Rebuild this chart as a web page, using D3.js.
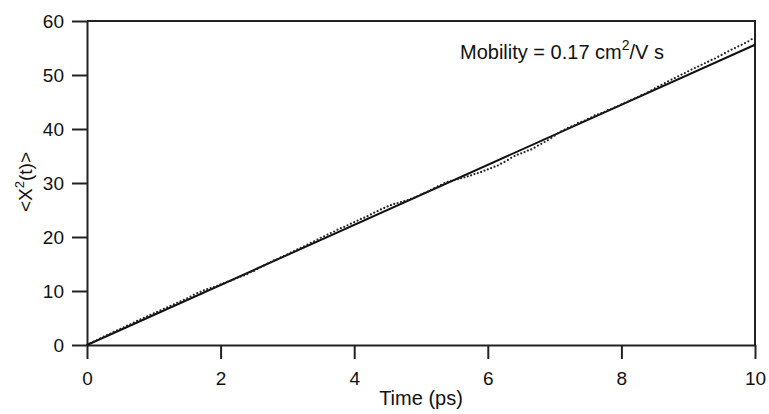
<!DOCTYPE html>
<html>
<head>
<meta charset="utf-8">
<script src="https://cdn.jsdelivr.net/npm/d3@7/dist/d3.min.js"></script>
<style>
  html, body { margin: 0; padding: 0; background: #fff; }
  svg { display: block; font-family: "Liberation Sans", Arial, sans-serif; }
</style>
</head>
<body>
<svg id="chart" width="769" height="414"></svg>
<script>
// Mean squared displacement <X^2(t)> sampled every 0.05 ps from 0 to 10 ps
const timeStep = 0.05;
const msd = [
  0.00, 0.33, 0.64, 0.93, 1.23, 1.54, 1.82, 2.13, 2.42, 2.70,
  2.98, 3.28, 3.59, 3.83, 4.14, 4.45, 4.75, 5.01, 5.30, 5.58,
  5.86, 6.12, 6.42, 6.71, 6.97, 7.23, 7.53, 7.81, 8.10, 8.36,
  8.64, 8.97, 9.30, 9.59, 9.85, 10.13, 10.36, 10.54, 10.71, 10.94,
  11.22, 11.45, 11.68, 11.90, 12.13, 12.41, 12.64, 12.87, 13.14, 13.47,
  13.70, 14.08, 14.41, 14.73, 15.06, 15.34, 15.67, 15.90, 16.22, 16.50,
  16.78, 17.11, 17.39, 17.71, 17.99, 18.27, 18.60, 18.93, 19.20, 19.53,
  19.86, 20.14, 20.44, 20.74, 21.02, 21.35, 21.63, 21.89, 22.18, 22.46,
  22.74, 23.04, 23.35, 23.57, 23.85, 24.18, 24.51, 24.79, 25.11, 25.39,
  25.67, 25.90, 26.13, 26.30, 26.48, 26.66, 26.84, 27.07, 27.29, 27.57,
  27.90, 28.18, 28.41, 28.73, 29.06, 29.39, 29.67, 30.00, 30.22, 30.40,
  30.53, 30.71, 30.89, 31.06, 31.24, 31.42, 31.65, 31.83, 32.05, 32.28,
  32.51, 32.74, 33.02, 33.24, 33.57, 33.90, 34.28, 34.66, 34.98, 35.26,
  35.49, 35.72, 36.00, 36.22, 36.55, 36.93, 37.26, 37.59, 37.91, 38.34,
  38.77, 39.20, 39.58, 39.90, 40.23, 40.51, 40.74, 41.07, 41.34, 41.57,
  41.90, 42.18, 42.51, 42.73, 42.96, 43.19, 43.52, 43.75, 44.02, 44.25,
  44.58, 44.86, 45.09, 45.41, 45.69, 45.97, 46.30, 46.53, 46.85, 47.18,
  47.51, 47.84, 48.17, 48.49, 48.82, 49.15, 49.43, 49.76, 50.08, 50.36,
  50.69, 51.02, 51.30, 51.57, 51.90, 52.18, 52.46, 52.79, 53.06, 53.39,
  53.72, 54.05, 54.38, 54.70, 54.98, 55.31, 55.59, 55.92, 56.24, 56.62,
  57.00
];
// Linear fit through the origin
const fitTime = [0, 10];
const fitMsd = [0, 55.6];

const xTicks = [0, 2, 4, 6, 8, 10];
const yTicks = [0, 10, 20, 30, 40, 50, 60];
const xDomain = [0, 10];
const yDomain = [0, 60];

const svg = d3.select("#chart");
const plotLeft = 87, plotRight = 755, plotTop = 21, plotBottom = 345;

const x = d3.scaleLinear().domain(xDomain).range([plotLeft, plotRight]);
const y = d3.scaleLinear().domain(yDomain).range([plotBottom, plotTop]);

const ink = "#222";

// frame (top and right edges)
svg.append("path")
  .attr("d", `M${plotLeft},${plotTop}H${plotRight}V${plotBottom}`)
  .attr("fill", "none").attr("stroke", ink).attr("stroke-width", 2);

const xAxis = svg.append("g")
  .attr("transform", `translate(0,${plotBottom})`)
  .call(d3.axisBottom(x).tickValues(xTicks).tickSize(14).tickPadding(13).tickSizeOuter(0).tickFormat(d3.format("d")));
const yAxis = svg.append("g")
  .attr("transform", `translate(${plotLeft},0)`)
  .call(d3.axisLeft(y).tickValues(yTicks).tickSize(15).tickPadding(8).tickSizeOuter(0).tickFormat(d3.format("d")));

[xAxis, yAxis].forEach(g => {
  g.select(".domain").attr("stroke", ink).attr("stroke-width", 2);
  g.selectAll(".tick line").attr("stroke", ink).attr("stroke-width", 2);
  g.selectAll(".tick text")
    .attr("fill", "#111")
    .style("font-family", "'Liberation Sans', Arial, sans-serif")
    .style("font-size", "19px");
});

// fitted line
svg.append("line")
  .attr("x1", x(fitTime[0])).attr("y1", y(fitMsd[0]))
  .attr("x2", x(fitTime[1])).attr("y2", y(fitMsd[1]))
  .attr("stroke", "#111").attr("stroke-width", 2);

// simulated points
svg.append("g").selectAll("circle")
  .data(msd)
  .join("circle")
  .attr("cx", (d, i) => x(i * timeStep))
  .attr("cy", d => y(d))
  .attr("r", 1.1)
  .attr("fill", "#222");

// axis titles
svg.append("text")
  .attr("x", 421).attr("y", 405)
  .attr("text-anchor", "middle")
  .style("font-size", "20px").attr("fill", "#111")
  .text("Time (ps)");

const yt = svg.append("text")
  .attr("transform", `translate(32,182) rotate(-90)`)
  .attr("text-anchor", "middle")
  .style("font-size", "19px").attr("fill", "#111");
yt.append("tspan").text("<X");
yt.append("tspan").attr("dy", -8).style("font-size", "13px").text("2");
yt.append("tspan").attr("dy", 8).text("(t)>");

// annotation
const ann = svg.append("text")
  .attr("x", 460).attr("y", 59)
  .style("font-size", "20px").attr("fill", "#111");
ann.append("tspan").text("Mobility = 0.17 cm");
ann.append("tspan").attr("dy", -9).style("font-size", "14px").text("2");
ann.append("tspan").attr("dy", 9).text("/V s");
</script>
</body>
</html>
